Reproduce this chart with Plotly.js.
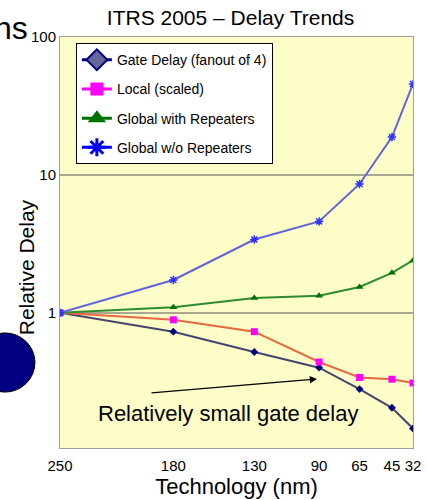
<!DOCTYPE html>
<html>
<head>
<meta charset="utf-8">
<script src="https://cdn.plot.ly/plotly-3.0.1.min.js"></script>
<style>html,body{margin:0;padding:0;background:#fff;}#chart{width:427px;height:500px;}</style>
</head>
<body>
<div id="chart"></div>
<script>
// Technology nodes (nm)
var nodes = [250, 180, 130, 90, 65, 45, 32];
var tickLabels = ['250', '180', '130', '90', '65', '45', '32'];
// Relative delay series
var gateDelay = [1, 0.73, 0.52, 0.40, 0.28, 0.205, 0.145];
var localScaled = [1, 0.89, 0.73, 0.44, 0.34, 0.33, 0.31];
var globalWithRep = [1, 1.1, 1.28, 1.33, 1.54, 1.95, 2.4];
var globalWithoutRep = [1, 1.73, 3.4, 4.6, 8.6, 18.8, 45.7];
var seriesNames = ['Gate Delay (fanout of 4)', 'Local (scaled)', 'Global with Repeaters', 'Global w/o Repeaters'];

var FONT = '"Liberation Sans", Arial, sans-serif';

function mainTrace(y, lineColor, sym, mColor, mSize, mLine) {
  return {
    x: nodes, y: y, type: 'scatter', mode: 'lines+markers', showlegend: false,
    line: {color: lineColor, width: 2},
    marker: {symbol: sym, color: mColor, size: mSize, line: mLine || {width: 0}}
  };
}
function legTrace(name, lineColor, sym, mColor, mSize, mLine, grp) {
  return {
    x: [null], y: [null], type: 'scatter', mode: 'lines+markers', name: name,
    legendgroup: grp, showlegend: true,
    line: {color: lineColor, width: 3},
    marker: {symbol: sym, color: mColor, size: mSize, line: mLine || {width: 0}}
  };
}

var data = [
  mainTrace(gateDelay, '#45456e', 'diamond', '#000080', 6),
  mainTrace(localScaled, '#e8683f', 'square', '#ff00ff', 7),
  mainTrace(globalWithRep, '#2e8b2e', 'triangle-up', '#007000', 7),
  mainTrace(globalWithoutRep, '#6262dc', 'asterisk-open', '#3030ff', 7, {color: '#3030ff', width: 1.5}),
  legTrace(seriesNames[0], '#000080', 'diamond', '#666699', 18, {color: '#000080', width: 2}, 'a'),
  legTrace(seriesNames[1], '#ff00ff', 'square', '#ff00ff', 13, {width: 0}, 'b'),
  legTrace(seriesNames[2], '#007000', 'triangle-up', '#007000', 17, {width: 0}, 'c'),
  legTrace(seriesNames[3], '#0000ff', 'asterisk-open', '#0000ff', 15, {color: '#0000ff', width: 3}, 'd')
];

var layout = {
  width: 427, height: 500,
  margin: {l: 60, r: 14, t: 37, b: 52},
  paper_bgcolor: '#ffffff',
  plot_bgcolor: '#fdfdc8',
  font: {family: FONT, color: '#000'},
  title: {text: 'ITRS 2005 \u2013 Delay Trends', x: 0.54, xanchor: 'center', y: 0.964, yanchor: 'middle',
          font: {size: 21, family: FONT, color: '#000'}},
  xaxis: {
    range: [250, 32], tickvals: nodes, ticktext: tickLabels,
    showgrid: false, zeroline: false, ticks: '',
    showline: true, linecolor: '#a0a0a0', linewidth: 1, mirror: true,
    tickfont: {size: 15, family: FONT}, ticklabelstandoff: 4,
    title: {text: 'Technology (nm)', font: {size: 22, family: FONT}, standoff: 2}
  },
  yaxis: {
    type: 'log', range: [-0.98, 2],
    tickvals: [0.1, 1, 10, 100], ticktext: ['0.1', '1', '10', '100'],
    showgrid: true, gridcolor: '#a8a890', gridwidth: 1.5, zeroline: false, ticks: '',
    showline: true, linecolor: '#a0a0a0', linewidth: 1, mirror: true,
    tickfont: {size: 15, family: FONT}
  },
  legend: {
    x: 0.045, y: 0.985, xanchor: 'left', yanchor: 'top',
    bgcolor: '#ffffff', bordercolor: '#000000', borderwidth: 1,
    font: {size: 14, family: FONT}, traceorder: 'grouped', tracegroupgap: 8,
    itemwidth: 30
  },
  shapes: [
    {type: 'circle', xref: 'paper', yref: 'paper', x0: -0.241, x1: -0.071, y0: 0.136, y1: 0.28,
     fillcolor: '#000080', line: {color: '#000000', width: 1}}
  ],
  annotations: [
    {xref: 'paper', yref: 'paper', x: -0.096, y: 0.44, xanchor: 'center', yanchor: 'middle',
     text: 'Relative Delay', textangle: -90, showarrow: false, font: {size: 21, family: FONT, color: '#000'}},
    {xref: 'paper', yref: 'paper', x: -0.085, y: 1.022, xanchor: 'right', yanchor: 'middle',
     text: 'ns', showarrow: false, font: {size: 32, family: FONT, color: '#000'}},
    {xref: 'paper', yref: 'paper', x: 0.476, y: 0.085, xanchor: 'center', yanchor: 'middle',
     text: 'Relatively small gate delay', showarrow: false, font: {size: 22, family: FONT, color: '#000'}},
    {xref: 'paper', yref: 'paper', x: 0.728, y: 0.168, text: '', showarrow: true,
     ax: -167, ay: 14, axref: 'pixel', ayref: 'pixel', arrowhead: 2, arrowsize: 1.2, arrowwidth: 1.2,
     arrowcolor: '#000', standoff: 0, startstandoff: 0}
  ]
};

Plotly.newPlot('chart', data, layout, {displayModeBar: false, staticPlot: true});
</script>
</body>
</html>
